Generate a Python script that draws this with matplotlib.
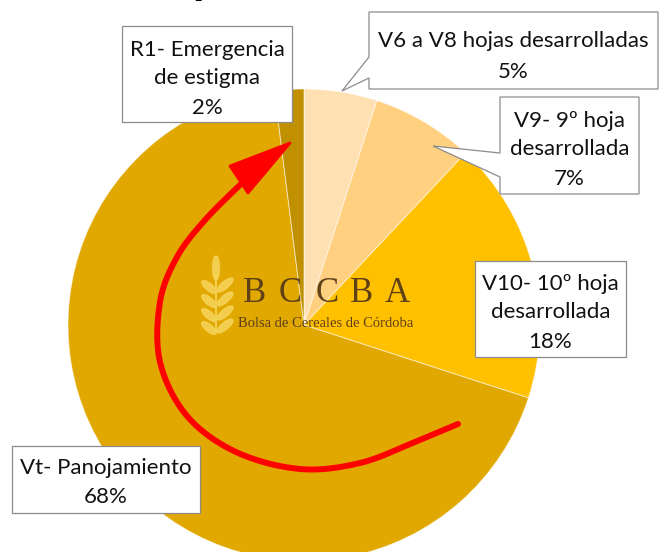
import numpy as np
import matplotlib
matplotlib.use('Agg')
import matplotlib.pyplot as plt
from matplotlib.patches import Polygon, Ellipse

W, H = 659, 552

# data
etapas = ['V6 a V8 hojas desarrolladas', 'V9- 9º hoja desarrollada',
          'V10- 10º hoja desarrollada', 'Vt- Panojamiento',
          'R1- Emergencia de estigma']
porcentajes = [5, 7, 18, 68, 2]
colores = ['#FFE0B2', '#FED080', '#FFC000', '#E0A800', '#C09000']
# label lines as they are broken in the chart
lineas = [['V6 a V8 hojas desarrolladas'],
          ['V9- 9º hoja', 'desarrollada'],
          ['V10- 10º hoja', 'desarrollada'],
          ['Vt- Panojamiento'],
          ['R1- Emergencia', 'de estigma']]


def Y(y):
    # screen pixel row -> data y
    return H - y


fig = plt.figure(figsize=(W / 100, H / 100), dpi=100)
ax = fig.add_axes([0, 0, 1, 1])

ax.pie(porcentajes, colors=colores, startangle=90, counterclock=False,
       center=(304, Y(325)), radius=236,
       wedgeprops=dict(edgecolor=(1, 1, 1, 0.55), linewidth=0.7))
ax.set_xlim(0, W)
ax.set_ylim(0, H)
ax.set_aspect('equal')
ax.axis('off')

# watermark logo
trigo = '#F6D257'
ax.add_patch(Ellipse((216, Y(268)), 7, 24, color=trigo, alpha=0.9, zorder=3))
for yy in [287, 301, 315, 328]:
    ax.add_patch(Ellipse((209, Y(yy)), 18, 7, angle=140, color=trigo, alpha=0.9, zorder=3))
    ax.add_patch(Ellipse((225, Y(yy - 2)), 20, 7, angle=40, color=trigo, alpha=0.9, zorder=3))
ax.plot([216, 216], [Y(262), Y(332)], color=trigo, lw=1.5, alpha=0.9, zorder=3)
for letra, xl in zip('BCCBA', [255, 290, 327, 362, 397]):
    ax.text(xl, Y(302), letra, family='Liberation Serif', fontsize=25,
            color='#573A18', alpha=0.95, ha='center', va='baseline', zorder=4)
ax.text(326, Y(327), 'Bolsa de Cereales de Córdoba', family='Liberation Serif',
        fontsize=10.5, color='#573A18', alpha=0.95, ha='center', va='baseline', zorder=4)

# red curved arrow
pts = np.array([(458, 424), (415, 442), (360, 463), (300, 469), (236, 452),
                (187, 416), (160, 362), (160, 302), (177, 257), (205, 220),
                (243, 182)], dtype=float)
P = np.vstack([pts[0], pts, pts[-1]])
curva = []
for i in range(1, len(P) - 2):
    p0, p1, p2, p3 = P[i - 1], P[i], P[i + 1], P[i + 2]
    for t in np.linspace(0, 1, 20, endpoint=False):
        curva.append(0.5 * ((2 * p1) + (-p0 + p2) * t
                            + (2 * p0 - 5 * p1 + 4 * p2 - p3) * t ** 2
                            + (-p0 + 3 * p1 - 3 * p2 + p3) * t ** 3))
curva.append(pts[-1])
curva = np.array(curva)
ax.plot(curva[:, 0], Y(curva[:, 1]), color='#FF0000', lw=4.3,
        solid_capstyle='round', zorder=5)
cabeza = [(290, 143), (230, 166), (248, 193)]
ax.add_patch(Polygon([(x, Y(y)) for x, y in cabeza], closed=True,
                     facecolor='#FF0000', edgecolor='#FF0000', lw=2,
                     joinstyle='round', zorder=5))

# label boxes (screen coords): x0, y0, x1, y1, wedge
cajas = [
    (369, 12, 658, 89, (342, 91, 57, 78)),
    (500, 97, 639, 194, (433, 146, 153, 177)),
    (475, 261, 626, 357, None),
    (12, 446, 200, 513, None),
    (122, 26, 292, 122, None),
]
bases = [[46.7, 78.3], [126.7, 155, 185], [290, 318.3, 348.3],
         [474, 502.7], [55.5, 84.5, 114.5]]

for i, (x0, y0, x1, y1, cuna) in enumerate(cajas):
    verts = [(x0, y0), (x1, y0), (x1, y1), (x0, y1)]
    if cuna is not None:
        tx, ty, ya, yb = cuna
        verts += [(x0, yb), (tx, ty), (x0, ya)]
    ax.add_patch(Polygon([(x, Y(y)) for x, y in verts], closed=True,
                         facecolor='white', edgecolor='#8C8C8C', lw=0.9,
                         zorder=6))
    textos = lineas[i] + ['{}%'.format(porcentajes[i])]
    xc = (x0 + x1) / 2
    for t, yb in zip(textos, bases[i]):
        ax.text(xc, Y(yb), t, family='Lato', fontsize=16, color='#111111',
                ha='center', va='baseline', zorder=7)

# title cut off by the top border
fig.text(204 / W, 1 + 6 / H, 'p', fontsize=24, fontweight='bold',
         ha='center', va='baseline')

fig.savefig('out.png', dpi=100)
